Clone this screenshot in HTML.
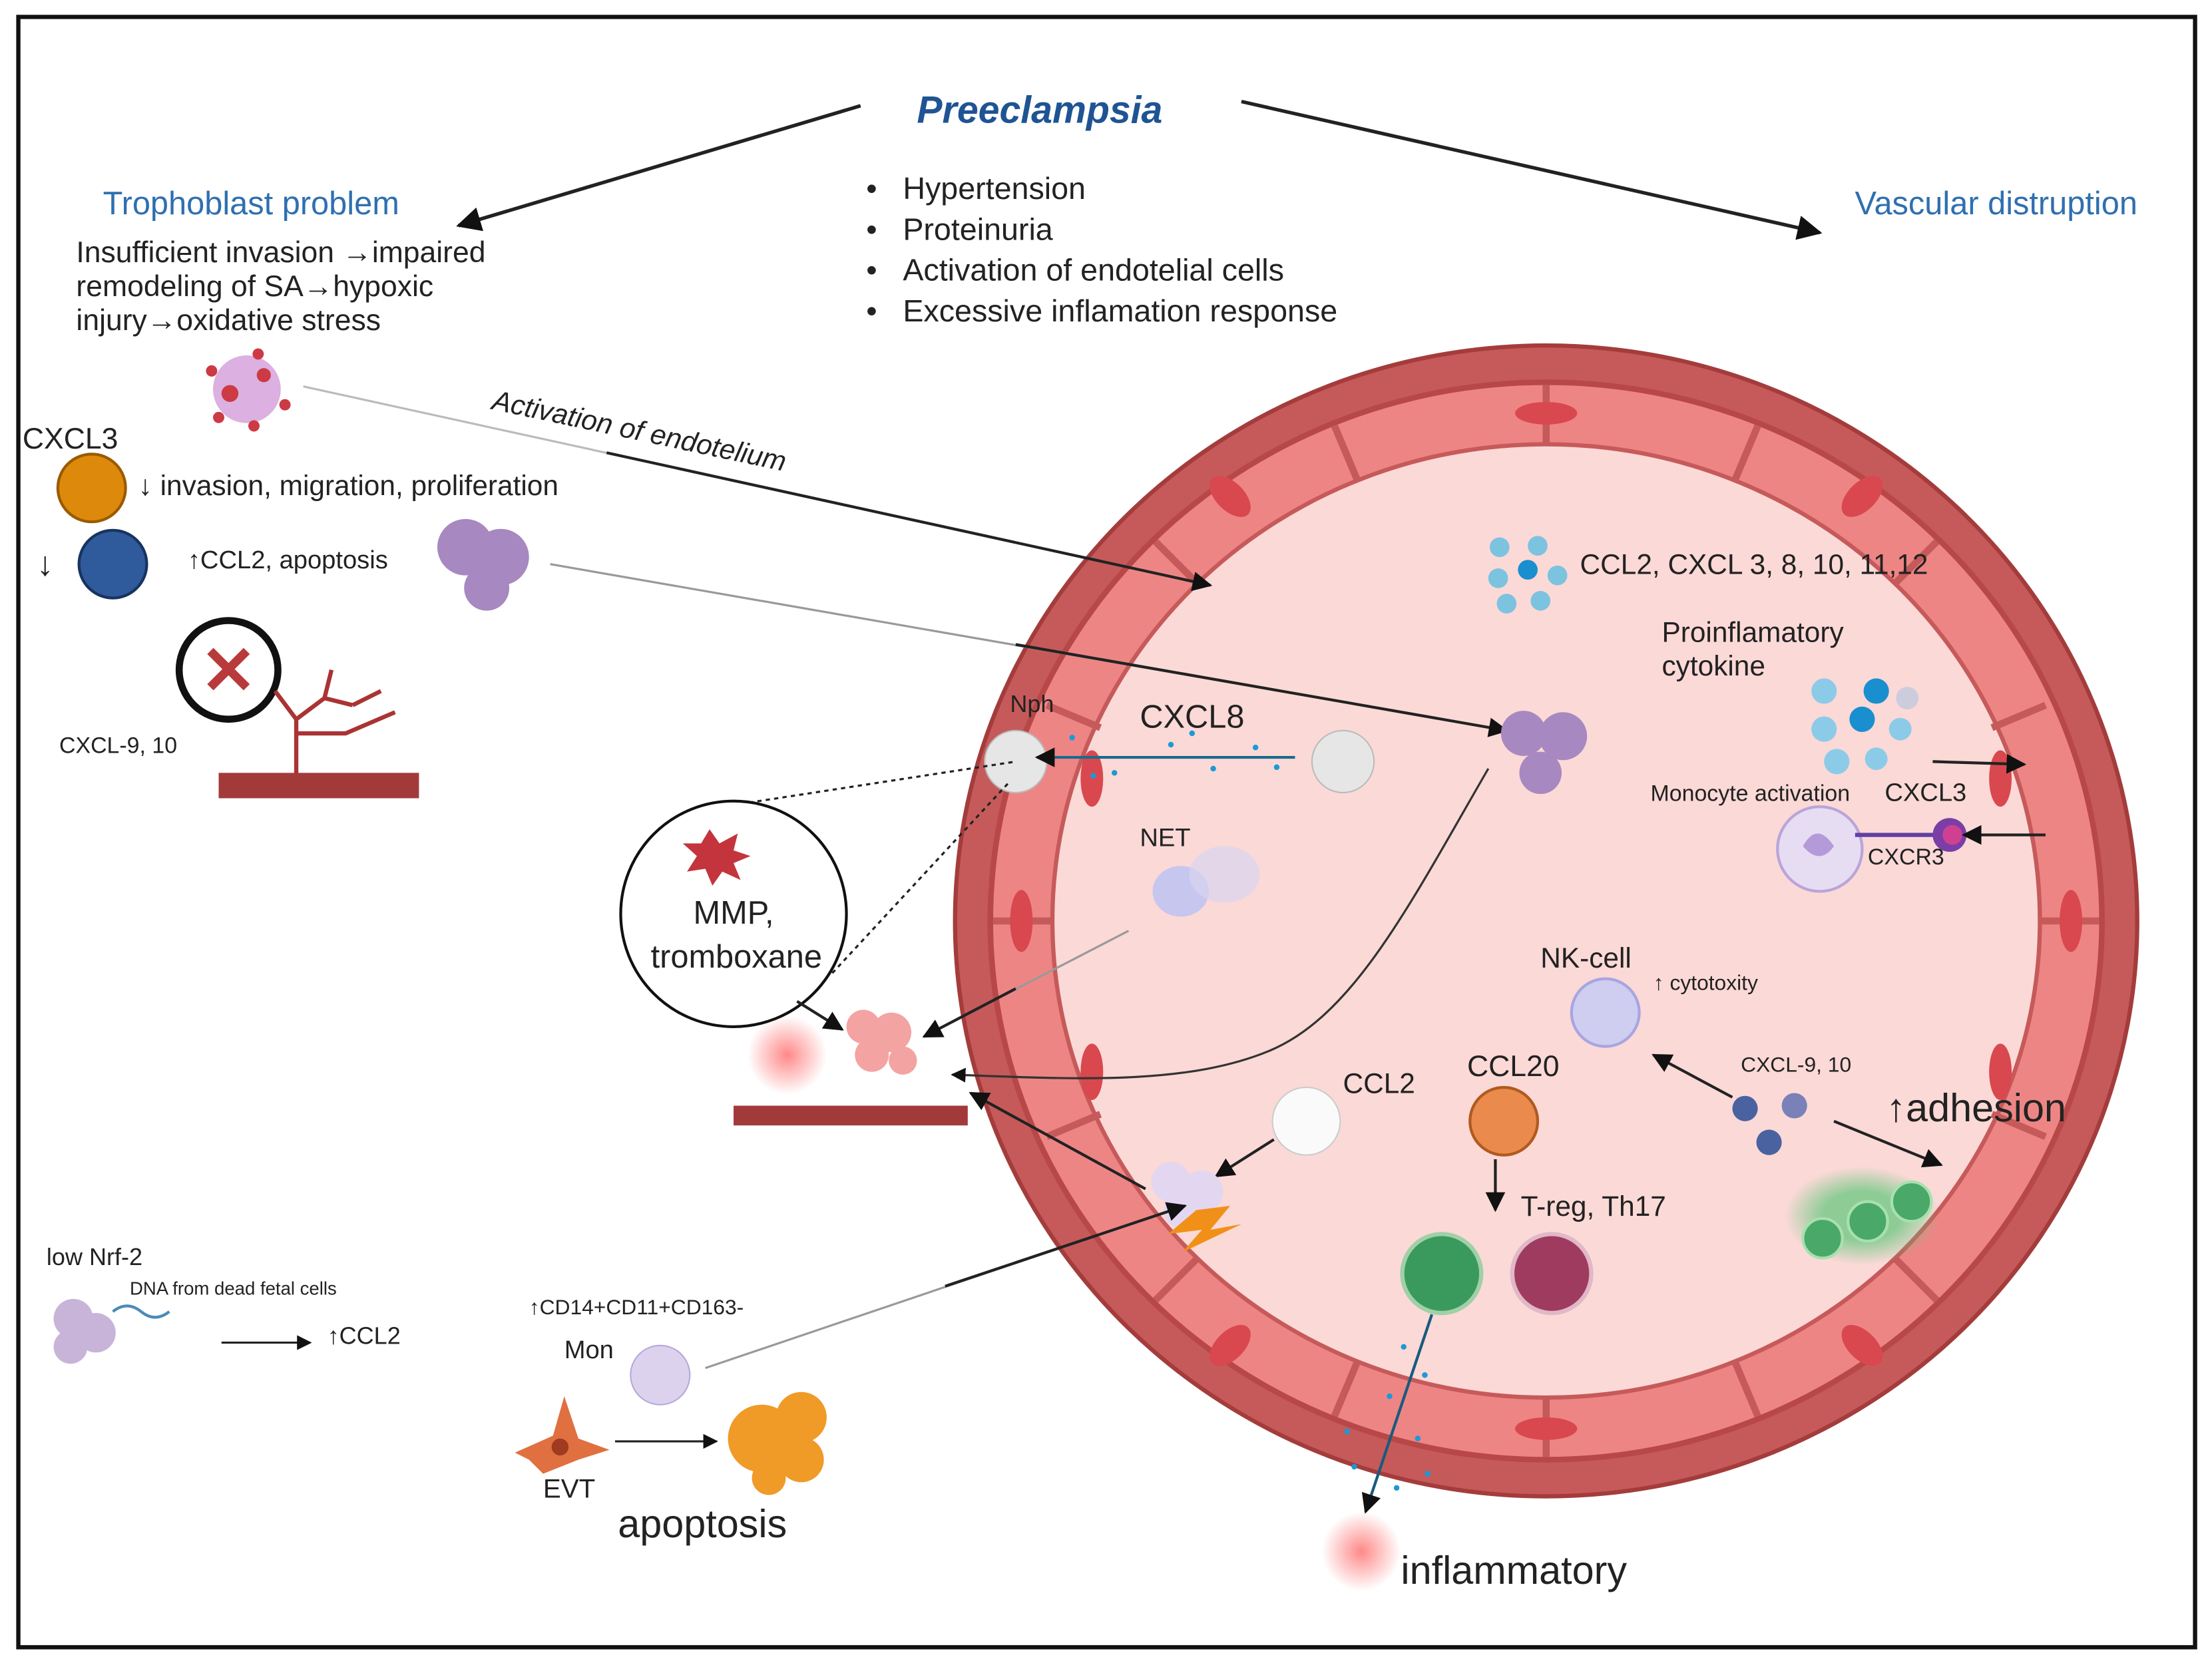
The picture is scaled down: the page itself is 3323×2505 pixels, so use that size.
<!DOCTYPE html>
<html><head><meta charset="utf-8"><style>
html,body{margin:0;padding:0;background:#fff}
svg{display:block}
text{font-family:"Liberation Sans",sans-serif}
</style></head><body>
<svg width="3323" height="2505" viewBox="0 0 1568 1182" preserveAspectRatio="none" xmlns="http://www.w3.org/2000/svg">
<defs>
<marker id="ah" viewBox="0 0 10 10" refX="9" refY="5" markerWidth="7" markerHeight="7" orient="auto"><path d="M0,0 L10,5 L0,10 z" fill="#111"/></marker>
<radialGradient id="glow"><stop offset="0" stop-color="#ff6b6b" stop-opacity=".8"/><stop offset="1" stop-color="#ff6b6b" stop-opacity="0"/></radialGradient>
<radialGradient id="gglow"><stop offset="0.5" stop-color="#5fc77a" stop-opacity=".7"/><stop offset="1" stop-color="#5fc77a" stop-opacity="0"/></radialGradient>
</defs>
<rect x="13" y="12" width="1543" height="1156" fill="#fff" stroke="#111" stroke-width="3"/>

<!-- vessel -->
<ellipse cx="1096" cy="653" rx="419" ry="408" fill="#c65a5a" stroke="#a43c3c" stroke-width="3"/>
<ellipse cx="1096" cy="653" rx="396" ry="384" fill="#b84848"/>
<ellipse cx="1096" cy="653" rx="392" ry="380" fill="#ee8585"/>
<ellipse cx="1096" cy="653" rx="350" ry="338" fill="#fbd9d7" stroke="#c65a5a" stroke-width="3"/>
<g stroke="#c65a5a" stroke-width="5">
<line x1="1096" y1="273" x2="1096" y2="315"/><line x1="1096" y1="991" x2="1096" y2="1033"/>
<line x1="1488" y1="653" x2="1446" y2="653"/><line x1="704" y1="653" x2="746" y2="653"/>
<line x1="1373" y1="384" x2="1343" y2="414"/><line x1="819" y1="384" x2="849" y2="414"/>
<line x1="1373" y1="922" x2="1343" y2="892"/><line x1="819" y1="922" x2="849" y2="892"/>
<line x1="1246" y1="302" x2="1230" y2="340"/><line x1="946" y1="302" x2="962" y2="340"/>
<line x1="1450" y1="500" x2="1412" y2="516"/><line x1="742" y1="500" x2="780" y2="516"/>
<line x1="1450" y1="806" x2="1412" y2="790"/><line x1="742" y1="806" x2="780" y2="790"/>
<line x1="1246" y1="1004" x2="1230" y2="966"/><line x1="946" y1="1004" x2="962" y2="966"/>
</g>
<g fill="#d9484e">
<ellipse cx="1096" cy="293" rx="22" ry="8"/><ellipse cx="1096" cy="1013" rx="22" ry="8"/>
<ellipse cx="1468" cy="653" rx="8" ry="22"/><ellipse cx="724" cy="653" rx="8" ry="22"/>
<ellipse cx="1320" cy="352" rx="10" ry="18" transform="rotate(45 1320 352)"/>
<ellipse cx="872" cy="352" rx="10" ry="18" transform="rotate(-45 872 352)"/>
<ellipse cx="1320" cy="954" rx="10" ry="18" transform="rotate(-45 1320 954)"/>
<ellipse cx="872" cy="954" rx="10" ry="18" transform="rotate(45 872 954)"/>
<ellipse cx="774" cy="552" rx="8" ry="20"/><ellipse cx="1418" cy="552" rx="8" ry="20"/>
<ellipse cx="774" cy="760" rx="8" ry="20"/><ellipse cx="1418" cy="760" rx="8" ry="20"/>
</g>

<!-- title -->
<text x="737" y="87" text-anchor="middle" font-size="27" font-weight="bold" font-style="italic" fill="#1f5494">Preeclampsia</text>
<line x1="610" y1="75" x2="325" y2="160" stroke="#222" stroke-width="2.5" marker-end="url(#ah)"/>
<line x1="880" y1="72" x2="1290" y2="165" stroke="#222" stroke-width="2.5" marker-end="url(#ah)"/>
<text x="178" y="152" text-anchor="middle" font-size="23" fill="#2f6fb0">Trophoblast problem</text>
<text x="1415" y="152" text-anchor="middle" font-size="23" fill="#2f6fb0">Vascular distruption</text>
<g font-size="22" fill="#222">
<text x="614" y="141">•</text><text x="640" y="141">Hypertension</text>
<text x="614" y="170">•</text><text x="640" y="170">Proteinuria</text>
<text x="614" y="199">•</text><text x="640" y="199">Activation of endotelial cells</text>
<text x="614" y="228">•</text><text x="640" y="228">Excessive inflamation response</text>
<text x="54" y="186" font-size="21">Insufficient invasion →impaired</text>
<text x="54" y="210" font-size="21">remodeling of SA→hypoxic</text>
<text x="54" y="234" font-size="21">injury→oxidative stress</text>
</g>
<!-- trophoblast cell -->
<circle cx="175" cy="276" r="24" fill="#dcb0e0"/>
<g fill="#cc3a44"><circle cx="163" cy="279" r="6"/><circle cx="187" cy="266" r="5"/><circle cx="183" cy="251" r="4"/><circle cx="150" cy="263" r="4"/><circle cx="202" cy="287" r="4"/><circle cx="155" cy="296" r="4"/><circle cx="180" cy="302" r="4"/></g>
<text x="16" y="318" font-size="21" fill="#222">CXCL3</text>
<circle cx="65" cy="346" r="24" fill="#dd8a0c" stroke="#9a5a00" stroke-width="2"/>
<text x="98" y="351" font-size="20" fill="#222">↓ invasion,  migration, proliferation</text>
<text x="26" y="408" font-size="24" fill="#222">↓</text>
<circle cx="80" cy="400" r="24" fill="#2f5a9c" stroke="#173460" stroke-width="2"/>
<text x="133" y="403" font-size="18" fill="#222">↑CCL2, apoptosis</text>
<g fill="#a888c0"><circle cx="330" cy="388" r="20"/><circle cx="355" cy="395" r="20"/><circle cx="345" cy="417" r="16"/></g>
<circle cx="162" cy="475" r="35" fill="#fff" stroke="#111" stroke-width="5"/>
<text x="162" y="492" text-anchor="middle" font-size="48" font-weight="bold" fill="#b83a3a">✕</text>
<path d="M210,550 L210,510 L195,490 M210,510 L230,495 L250,500 M230,495 L235,475 M250,500 L270,490 M210,520 L245,520 L280,505" stroke="#a33" stroke-width="3" fill="none"/>
<rect x="155" y="548" width="142" height="18" fill="#a33a3a"/>
<text x="42" y="534" font-size="16" fill="#222">CXCL-9, 10</text>

<!-- long lines -->
<line x1="215" y1="274" x2="858" y2="415" stroke="#bbb" stroke-width="1.5"/>
<line x1="430" y1="321" x2="858" y2="415" stroke="#222" stroke-width="2" marker-end="url(#ah)"/>
<text x="348" y="290" font-size="20" font-style="italic" fill="#222" transform="rotate(12 348 290)">Activation of endotelium</text>
<line x1="390" y1="400" x2="1068" y2="518" stroke="#999" stroke-width="1.5"/>
<line x1="720" y1="457" x2="1068" y2="518" stroke="#222" stroke-width="2" marker-end="url(#ah)"/>

<!-- lumen contents -->
<g fill="#7cc3e0"><circle cx="1063" cy="388" r="7"/><circle cx="1090" cy="387" r="7"/><circle cx="1062" cy="410" r="7"/><circle cx="1083" cy="404" r="7" fill="#1a8fcf"/><circle cx="1104" cy="408" r="7"/><circle cx="1068" cy="428" r="7"/><circle cx="1092" cy="426" r="7"/></g>
<text x="1120" y="407" font-size="20" fill="#222">CCL2, CXCL 3, 8, 10, 11,12</text>
<text x="1178" y="455" font-size="20" fill="#222">Proinflamatory</text>
<text x="1178" y="479" font-size="20" fill="#222">cytokine</text>
<g fill="#8ccbe8"><circle cx="1293" cy="490" r="9"/><circle cx="1330" cy="490" r="9" fill="#1a8fcf"/><circle cx="1352" cy="495" r="8" fill="#ccd"/><circle cx="1293" cy="517" r="9"/><circle cx="1320" cy="510" r="9" fill="#1a8fcf"/><circle cx="1347" cy="517" r="8"/><circle cx="1302" cy="540" r="9"/><circle cx="1330" cy="538" r="8"/></g>
<line x1="1370" y1="540" x2="1435" y2="542" stroke="#222" stroke-width="2" marker-end="url(#ah)"/>
<text x="1170" y="568" font-size="16" fill="#222">Monocyte activation</text>
<text x="1336" y="568" font-size="18" fill="#222">CXCL3</text>
<circle cx="1290" cy="602" r="30" fill="#e7ddf3" stroke="#b9a5d8" stroke-width="2"/>
<path d="M1278,600 q10,-18 22,0 q-10,14 -22,0" fill="#b49ad8"/>
<line x1="1315" y1="592" x2="1372" y2="592" stroke="#6040a0" stroke-width="3"/>
<circle cx="1382" cy="592" r="12" fill="#7a3ea6"/><circle cx="1384" cy="592" r="7" fill="#d04090"/>
<line x1="1450" y1="592" x2="1392" y2="592" stroke="#222" stroke-width="2" marker-end="url(#ah)"/>
<text x="1324" y="613" font-size="16" fill="#222">CXCR3</text>

<text x="716" y="505" font-size="17" fill="#222">Nph</text>
<circle cx="720" cy="540" r="22" fill="#e6e6e6" stroke="#bbb"/>
<text x="808" y="516" font-size="23" fill="#222">CXCL8</text>
<circle cx="952" cy="540" r="22" fill="#e6e6e6" stroke="#bbb"/>
<line x1="918" y1="537" x2="735" y2="537" stroke="#1a6a8e" stroke-width="2" marker-end="url(#ah)"/>
<g fill="#1a9ad6"><circle cx="760" cy="523" r="2"/><circle cx="790" cy="548" r="2"/><circle cx="830" cy="528" r="2"/><circle cx="860" cy="545" r="2"/><circle cx="890" cy="530" r="2"/><circle cx="905" cy="544" r="2"/><circle cx="775" cy="550" r="2"/><circle cx="845" cy="520" r="2"/></g>
<text x="808" y="600" font-size="18" fill="#222">NET</text>
<ellipse cx="837" cy="632" rx="20" ry="18" fill="#c7c6ee"/><ellipse cx="868" cy="620" rx="25" ry="20" fill="#d8d4ef" opacity=".7"/>
<g fill="#a888c0"><circle cx="1080" cy="520" r="16"/><circle cx="1108" cy="522" r="17"/><circle cx="1092" cy="548" r="15"/></g>
<path d="M1055,545 C1000,640 960,720 900,745 C840,770 760,765 675,762" stroke="#333" stroke-width="1.5" fill="none" marker-end="url(#ah)"/>

<!-- left middle -->
<line x1="525" y1="570" x2="720" y2="540" stroke="#222" stroke-width="1.5" stroke-dasharray="3,3"/>
<line x1="590" y1="690" x2="715" y2="555" stroke="#222" stroke-width="1.5" stroke-dasharray="3,3"/>
<circle cx="520" cy="648" r="80" fill="#fff" stroke="#111" stroke-width="2"/>
<polygon points="503,588 510,598 523,591 520,603 532,607 520,612 525,624 512,618 505,628 500,616 487,618 494,607 484,598 497,598" fill="#c4343c"/>
<text x="520" y="655" text-anchor="middle" font-size="23" fill="#222">MMP,</text>
<text x="522" y="686" text-anchor="middle" font-size="23" fill="#222">tromboxane</text>
<circle cx="558" cy="748" r="28" fill="url(#glow)"/>
<g fill="#f4a3a3"><circle cx="612" cy="728" r="12"/><circle cx="632" cy="732" r="14"/><circle cx="618" cy="748" r="12"/><circle cx="640" cy="752" r="10"/></g>
<line x1="565" y1="710" x2="597" y2="730" stroke="#222" stroke-width="2" marker-end="url(#ah)"/>
<line x1="800" y1="660" x2="655" y2="735" stroke="#999" stroke-width="1.5"/>
<line x1="720" y1="701" x2="655" y2="735" stroke="#222" stroke-width="2" marker-end="url(#ah)"/>
<rect x="520" y="784" width="166" height="14" fill="#a33a3a"/>
<line x1="812" y1="843" x2="688" y2="775" stroke="#222" stroke-width="2" marker-end="url(#ah)"/>

<text x="952" y="775" font-size="20" fill="#222">CCL2</text>
<circle cx="926" cy="795" r="24" fill="#fafafa" stroke="#ccc"/>
<line x1="903" y1="808" x2="862" y2="834" stroke="#222" stroke-width="2" marker-end="url(#ah)"/>
<g fill="#e3d6f0"><circle cx="830" cy="838" r="14"/><circle cx="852" cy="845" r="15"/><circle cx="838" cy="858" r="13"/></g>
<polygon points="848,858 872,855 858,872 880,868 838,888 852,872 828,875" fill="#f19019"/>
<text x="1040" y="763" font-size="21" fill="#222">CCL20</text>
<circle cx="1066" cy="795" r="24" fill="#ea8a4c" stroke="#b05a20" stroke-width="2"/>
<line x1="1060" y1="822" x2="1060" y2="858" stroke="#222" stroke-width="2" marker-end="url(#ah)"/>
<text x="1078" y="862" font-size="20" fill="#222">T-reg, Th17</text>
<circle cx="1022" cy="903" r="28" fill="#3a9a5e" stroke="#a0d0a8" stroke-width="3"/>
<circle cx="1100" cy="903" r="28" fill="#a03b60" stroke="#e0b8c8" stroke-width="3"/>
<line x1="1015" y1="932" x2="968" y2="1072" stroke="#1a5a7e" stroke-width="2" marker-end="url(#ah)"/>
<g fill="#1a9ad6"><circle cx="995" cy="955" r="2"/><circle cx="1010" cy="975" r="2"/><circle cx="985" cy="990" r="2"/><circle cx="1005" cy="1020" r="2"/><circle cx="960" cy="1040" r="2"/><circle cx="990" cy="1055" r="2"/><circle cx="1012" cy="1045" r="2"/><circle cx="955" cy="1015" r="2"/></g>
<circle cx="965" cy="1100" r="28" fill="url(#glow)"/>
<text x="993" y="1123" font-size="28" fill="#222">inflammatory</text>

<text x="1092" y="686" font-size="20" fill="#222">NK-cell</text>
<circle cx="1138" cy="718" r="24" fill="#cfcdf0" stroke="#a8a5e0" stroke-width="2"/>
<text x="1172" y="702" font-size="15" fill="#222">↑ cytotoxity</text>
<text x="1234" y="760" font-size="15" fill="#222">CXCL-9, 10</text>
<g fill="#4a62a0"><circle cx="1237" cy="786" r="9"/><circle cx="1272" cy="784" r="9" fill="#7a80b8"/><circle cx="1254" cy="810" r="9"/></g>
<line x1="1228" y1="778" x2="1172" y2="748" stroke="#222" stroke-width="2" marker-end="url(#ah)"/>
<line x1="1300" y1="795" x2="1376" y2="826" stroke="#222" stroke-width="2" marker-end="url(#ah)"/>
<text x="1337" y="795" font-size="28" fill="#222">↑adhesion</text>
<ellipse cx="1320" cy="862" rx="55" ry="35" fill="url(#gglow)"/>
<g fill="#4aa868" stroke="#a8e0b0" stroke-width="2"><circle cx="1292" cy="878" r="14"/><circle cx="1324" cy="866" r="14"/><circle cx="1355" cy="852" r="14"/></g>

<!-- bottom left -->
<text x="33" y="897" font-size="17" fill="#222">low Nrf-2</text>
<g fill="#c8b4d8"><circle cx="52" cy="935" r="14"/><circle cx="68" cy="945" r="14"/><circle cx="50" cy="955" r="12"/></g>
<path d="M80,930 q10,-8 20,0 t20,0" stroke="#4a8ab8" stroke-width="2" fill="none"/>
<text x="92" y="918" font-size="13" fill="#222">DNA from dead fetal cells</text>
<line x1="157" y1="952" x2="220" y2="952" stroke="#222" stroke-width="1.5" marker-end="url(#ah)"/>
<text x="232" y="953" font-size="17" fill="#222">↑CCL2</text>
<text x="375" y="932" font-size="15" fill="#222">↑CD14+CD11+CD163-</text>
<text x="400" y="963" font-size="18" fill="#222">Mon</text>
<circle cx="468" cy="975" r="21" fill="#ddd2ee" stroke="#b8a8d8"/>
<line x1="500" y1="970" x2="840" y2="855" stroke="#999" stroke-width="1.5"/>
<line x1="670" y1="912" x2="840" y2="855" stroke="#222" stroke-width="2" marker-end="url(#ah)"/>
<polygon points="400,990 410,1020 432,1028 410,1035 385,1045 375,1035 365,1030 392,1018" fill="#e07040"/>
<circle cx="397" cy="1026" r="6" fill="#a03a20"/>
<text x="385" y="1062" font-size="19" fill="#222">EVT</text>
<line x1="436" y1="1022" x2="508" y2="1022" stroke="#222" stroke-width="1.5" marker-end="url(#ah)"/>
<g fill="#f09a28"><circle cx="540" cy="1020" r="24"/><circle cx="568" cy="1005" r="18"/><circle cx="568" cy="1035" r="16"/><circle cx="545" cy="1048" r="12"/></g>
<text x="438" y="1090" font-size="28" fill="#222">apoptosis</text>
</svg>
</body></html>
